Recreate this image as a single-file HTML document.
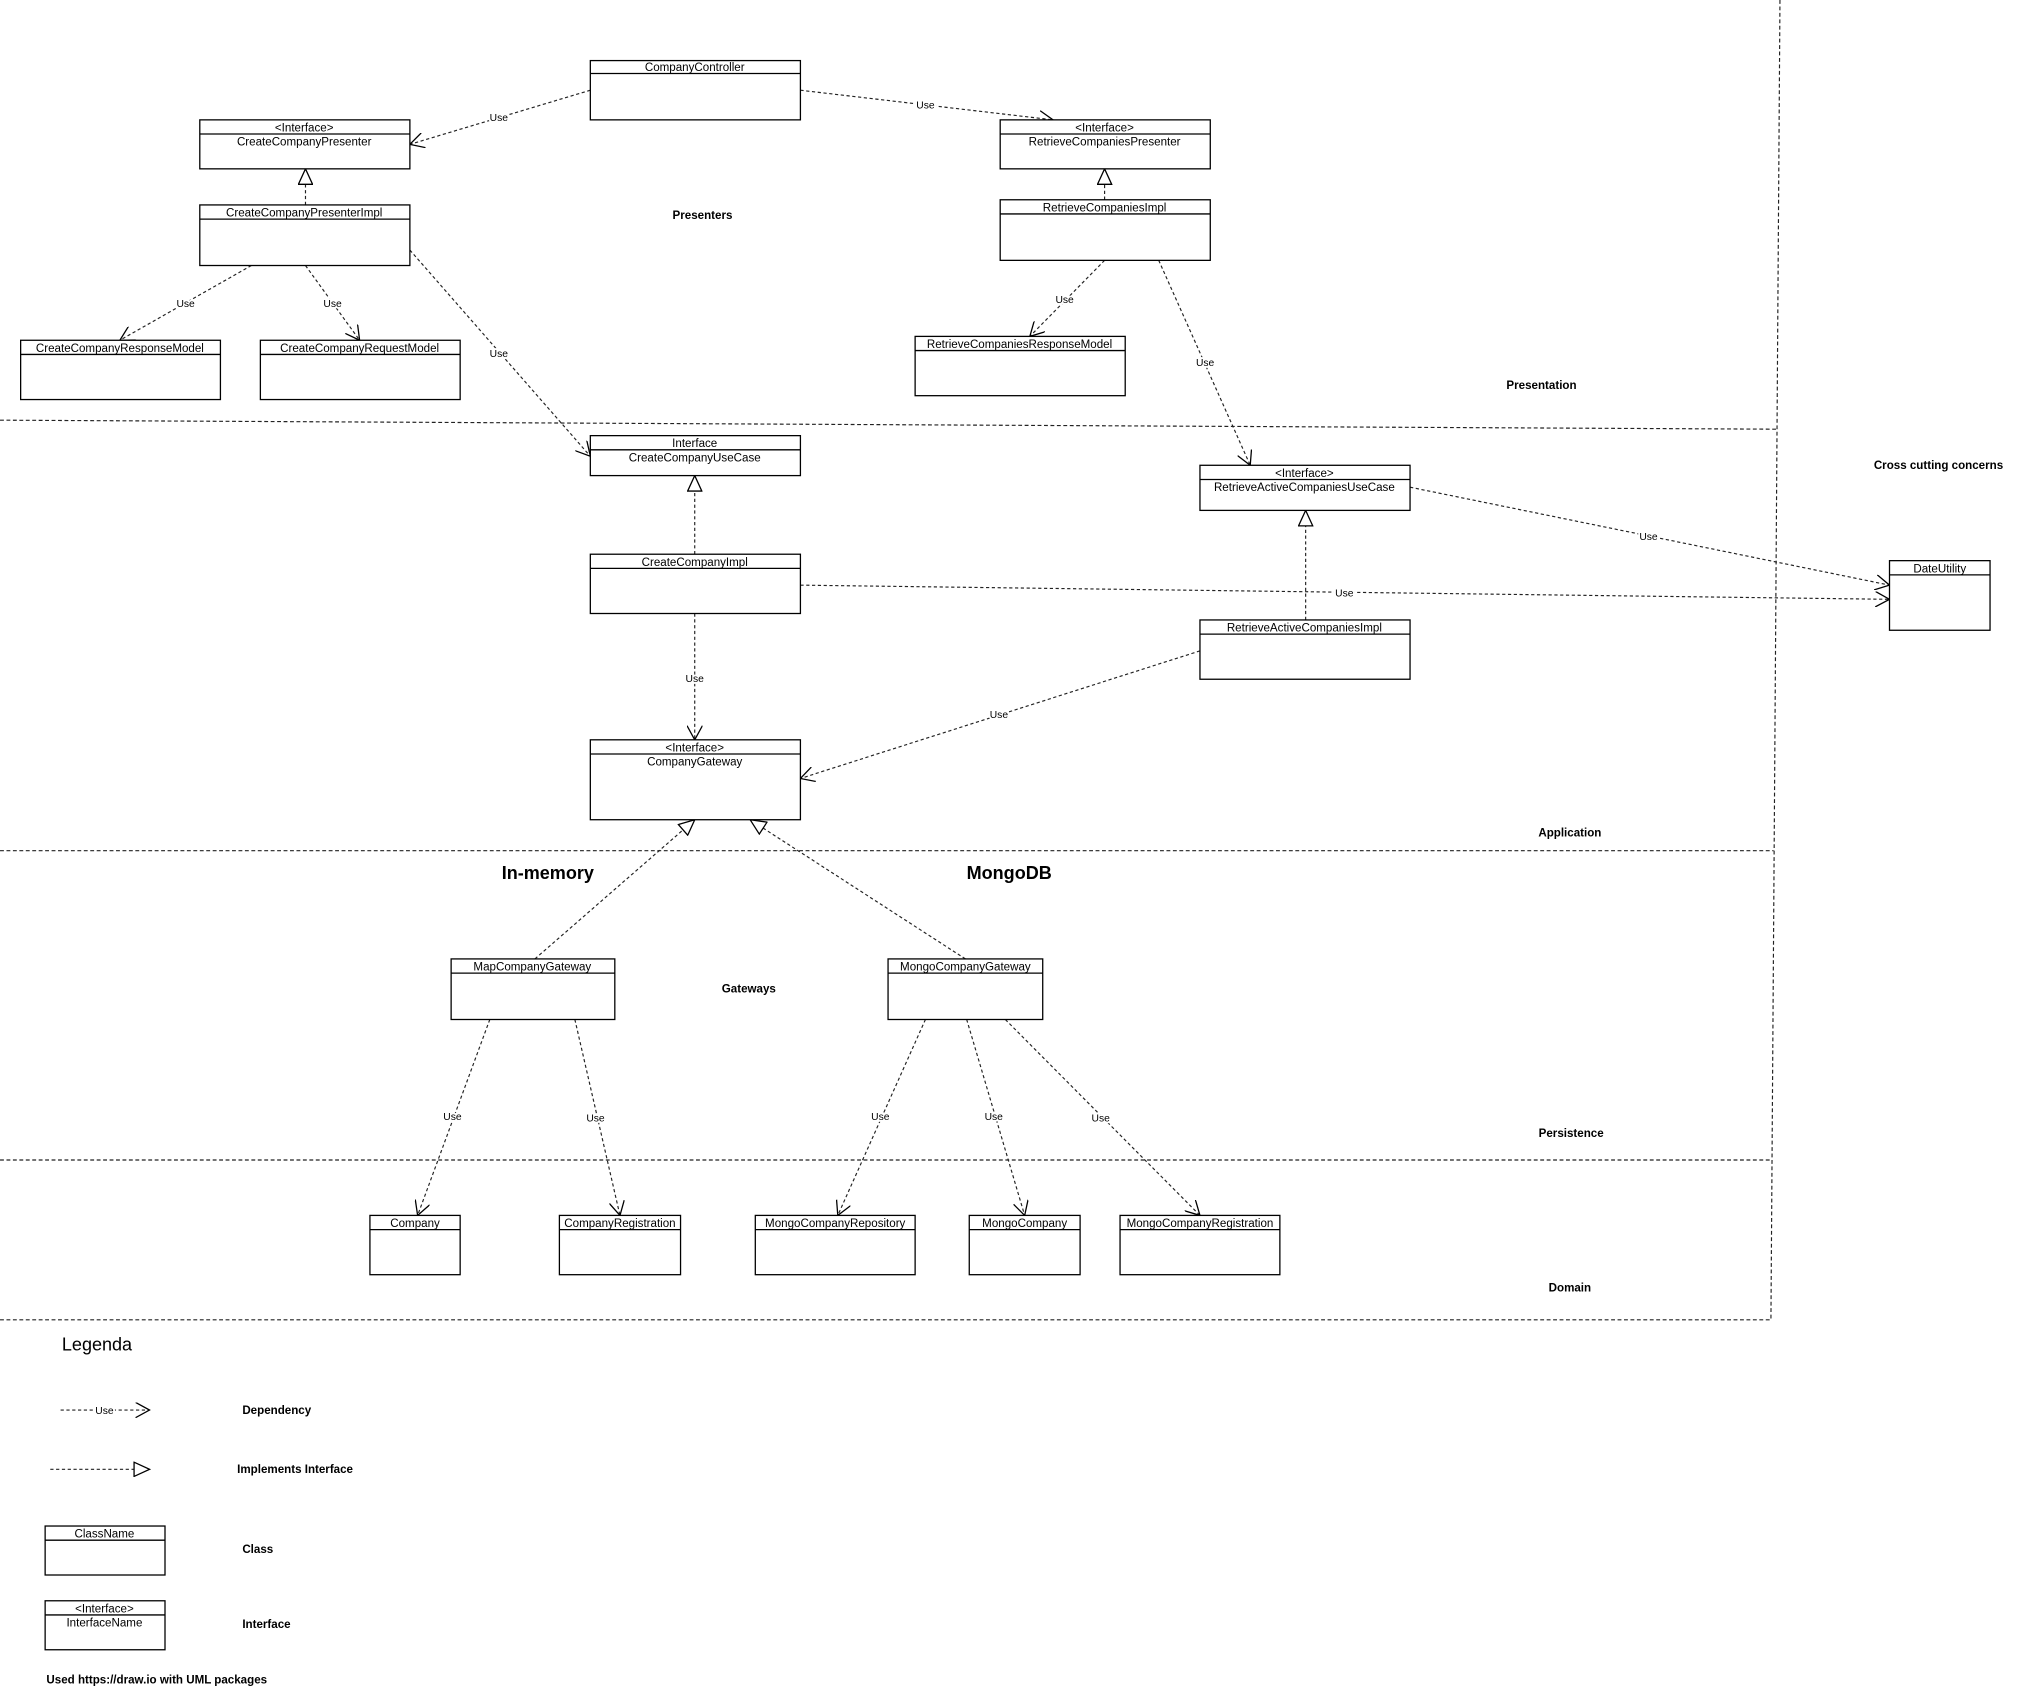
<!DOCTYPE html>
<html><head><meta charset="utf-8"><style>
html,body{margin:0;padding:0;background:#fff;}
svg{display:block;}
text{font-family:"Liberation Sans",Arial,sans-serif;fill:#000;}
.b{font-size:9px;text-anchor:middle;}
.u{font-size:8px;text-anchor:middle;paint-order:stroke;stroke:#fff;stroke-width:3px;}
.s{font-size:9px;font-weight:bold;}
.box{fill:#fff;stroke:#000;stroke-width:1;}
.dep{fill:none;stroke:#222;stroke-width:0.9;stroke-dasharray:2.5 2;}
.sep{fill:none;stroke:#222;stroke-width:0.9;stroke-dasharray:3 2;}
</style></head><body>
<svg width="2021" height="1691" viewBox="0 0 1568 1312" xmlns="http://www.w3.org/2000/svg">
<defs>
<marker id="v" viewBox="0 0 12 12" refX="11" refY="6" markerWidth="12" markerHeight="12" markerUnits="userSpaceOnUse" orient="auto">
<path d="M0,0 L11,6 L0,12" fill="none" stroke="#000" stroke-width="1"/></marker>
<marker id="t" viewBox="0 0 14 12" refX="13" refY="6" markerWidth="14" markerHeight="12" markerUnits="userSpaceOnUse" orient="auto">
<path d="M1,0.5 L13,6 L1,11.5 Z" fill="#fff" stroke="#000" stroke-width="1"/></marker>
</defs>
<rect width="1568" height="1312" fill="#fff"/>
<path class="sep" d="M0,326 L1380,333"/>
<path class="sep" d="M1381,0 L1374,1024"/>
<path class="sep" d="M0,660 L1376,660"/>
<path class="sep" d="M0,900 L1374,900"/>
<path class="sep" d="M0,1024 L1374,1024"/>

<g class="dep" marker-end="url(#v)">
<path d="M458,70 L318,112"/>
<path d="M621,70 L817,93"/>
<path d="M195,206 L93,264"/>
<path d="M237,206 L279,264"/>
<path d="M318,194 L458,354"/>
<path d="M857,202 L799,261"/>
<path d="M899,202 L970,361"/>
<path d="M1094,378 L1466,454"/>
<path d="M621,454 L1466,465"/>
<path d="M539,476 L539,574"/>
<path d="M931,505 L621,604"/>
<path d="M380,791 L324,943"/>
<path d="M446,791 L481,943"/>
<path d="M718,791 L650,943"/>
<path d="M750,791 L795,943"/>
<path d="M780,791 L931,943"/>
<path d="M47,1094 L116,1094"/>
</g>
<g class="dep" marker-end="url(#t)">
<path d="M237,159 L237,131"/>
<path d="M857,155 L857,131"/>
<path d="M539,430 L539,369"/>
<path d="M1013,481 L1013,396"/>
<path d="M415,744 L539,636"/>
<path d="M749,744 L582,636"/>
<path d="M39,1140 L116,1140"/>
</g>

<g>
<text class="u" x="387" y="94">Use</text>
<text class="u" x="718" y="84">Use</text>
<text class="u" x="144" y="238">Use</text>
<text class="u" x="258" y="238">Use</text>
<text class="u" x="387" y="277">Use</text>
<text class="u" x="826" y="235">Use</text>
<text class="u" x="935" y="284">Use</text>
<text class="u" x="1279" y="419">Use</text>
<text class="u" x="1043" y="463">Use</text>
<text class="u" x="539" y="529">Use</text>
<text class="u" x="775" y="557">Use</text>
<text class="u" x="351" y="869">Use</text>
<text class="u" x="462" y="870">Use</text>
<text class="u" x="683" y="869">Use</text>
<text class="u" x="771" y="869">Use</text>
<text class="u" x="854" y="870">Use</text>
<text class="u" x="81" y="1097">Use</text>
</g>

<g>
<rect class="box" x="458" y="47" width="163" height="46"/><line class="box" x1="458" y1="57" x2="621" y2="57"/><text class="b" x="539" y="55">CompanyController</text>

<rect class="box" x="155" y="93" width="163" height="38"/><line class="box" x1="155" y1="104" x2="318" y2="104"/><text class="b" x="236" y="102">&lt;Interface&gt;</text><text class="b" x="236" y="113">CreateCompanyPresenter</text>

<rect class="box" x="155" y="159" width="163" height="47"/><line class="box" x1="155" y1="170" x2="318" y2="170"/><text class="b" x="236" y="168">CreateCompanyPresenterImpl</text>

<rect class="box" x="16" y="264" width="155" height="46"/><line class="box" x1="16" y1="275" x2="171" y2="275"/><text class="b" x="93" y="273">CreateCompanyResponseModel</text>

<rect class="box" x="202" y="264" width="155" height="46"/><line class="box" x1="202" y1="275" x2="357" y2="275"/><text class="b" x="279" y="273">CreateCompanyRequestModel</text>

<rect class="box" x="776" y="93" width="163" height="38"/><line class="box" x1="776" y1="104" x2="939" y2="104"/><text class="b" x="857" y="102">&lt;Interface&gt;</text><text class="b" x="857" y="113">RetrieveCompaniesPresenter</text>

<rect class="box" x="776" y="155" width="163" height="47"/><line class="box" x1="776" y1="166" x2="939" y2="166"/><text class="b" x="857" y="164">RetrieveCompaniesImpl</text>

<rect class="box" x="710" y="261" width="163" height="46"/><line class="box" x1="710" y1="272" x2="873" y2="272"/><text class="b" x="791" y="270">RetrieveCompaniesResponseModel</text>

<rect class="box" x="458" y="338" width="163" height="31"/><line class="box" x1="458" y1="349" x2="621" y2="349"/><text class="b" x="539" y="347">Interface</text><text class="b" x="539" y="358">CreateCompanyUseCase</text>

<rect class="box" x="931" y="361" width="163" height="35"/><line class="box" x1="931" y1="372" x2="1094" y2="372"/><text class="b" x="1012" y="370">&lt;Interface&gt;</text><text class="b" x="1012" y="381">RetrieveActiveCompaniesUseCase</text>

<rect class="box" x="458" y="430" width="163" height="46"/><line class="box" x1="458" y1="441" x2="621" y2="441"/><text class="b" x="539" y="439">CreateCompanyImpl</text>

<rect class="box" x="931" y="481" width="163" height="46"/><line class="box" x1="931" y1="492" x2="1094" y2="492"/><text class="b" x="1012" y="490">RetrieveActiveCompaniesImpl</text>

<rect class="box" x="1466" y="435" width="78" height="54"/><line class="box" x1="1466" y1="446" x2="1544" y2="446"/><text class="b" x="1505" y="444">DateUtility</text>

<rect class="box" x="458" y="574" width="163" height="62"/><line class="box" x1="458" y1="585" x2="621" y2="585"/><text class="b" x="539" y="583">&lt;Interface&gt;</text><text class="b" x="539" y="594">CompanyGateway</text>

<rect class="box" x="350" y="744" width="127" height="47"/><line class="box" x1="350" y1="755" x2="477" y2="755"/><text class="b" x="413" y="753">MapCompanyGateway</text>

<rect class="box" x="689" y="744" width="120" height="47"/><line class="box" x1="689" y1="755" x2="809" y2="755"/><text class="b" x="749" y="753">MongoCompanyGateway</text>

<rect class="box" x="287" y="943" width="70" height="46"/><line class="box" x1="287" y1="954" x2="357" y2="954"/><text class="b" x="322" y="952">Company</text>

<rect class="box" x="434" y="943" width="94" height="46"/><line class="box" x1="434" y1="954" x2="528" y2="954"/><text class="b" x="481" y="952">CompanyRegistration</text>

<rect class="box" x="586" y="943" width="124" height="46"/><line class="box" x1="586" y1="954" x2="710" y2="954"/><text class="b" x="648" y="952">MongoCompanyRepository</text>

<rect class="box" x="752" y="943" width="86" height="46"/><line class="box" x1="752" y1="954" x2="838" y2="954"/><text class="b" x="795" y="952">MongoCompany</text>

<rect class="box" x="869" y="943" width="124" height="46"/><line class="box" x1="869" y1="954" x2="993" y2="954"/><text class="b" x="931" y="952">MongoCompanyRegistration</text>

<rect class="box" x="35" y="1184" width="93" height="38"/><line class="box" x1="35" y1="1195" x2="128" y2="1195"/><text class="b" x="81" y="1193">ClassName</text>

<rect class="box" x="35" y="1242" width="93" height="38"/><line class="box" x1="35" y1="1253" x2="128" y2="1253"/><text class="b" x="81" y="1251">&lt;Interface&gt;</text><text class="b" x="81" y="1262">InterfaceName</text>
</g>

<text class="s" x="545" y="170" text-anchor="middle">Presenters</text>
<text class="s" x="1196" y="302" text-anchor="middle">Presentation</text>
<text class="s" x="1504" y="364" text-anchor="middle">Cross cutting concerns</text>
<text class="s" x="1218" y="649" text-anchor="middle">Application</text>
<text class="s" x="581" y="770" text-anchor="middle">Gateways</text>
<text class="s" x="1219" y="882" text-anchor="middle">Persistence</text>
<text class="s" x="1218" y="1002" text-anchor="middle">Domain</text>
<text x="425" y="682" text-anchor="middle" style="font-size:14px;font-weight:bold">In-memory</text>
<text x="783" y="682" text-anchor="middle" style="font-size:14px;font-weight:bold">MongoDB</text>
<text x="48" y="1048" style="font-size:14px">Legenda</text>
<text class="s" x="188" y="1097">Dependency</text>
<text class="s" x="184" y="1143">Implements Interface</text>
<text class="s" x="188" y="1205">Class</text>
<text class="s" x="188" y="1263">Interface</text>
<text class="s" x="36" y="1306">Used https://draw.io with UML packages</text>
</svg>
</body></html>
